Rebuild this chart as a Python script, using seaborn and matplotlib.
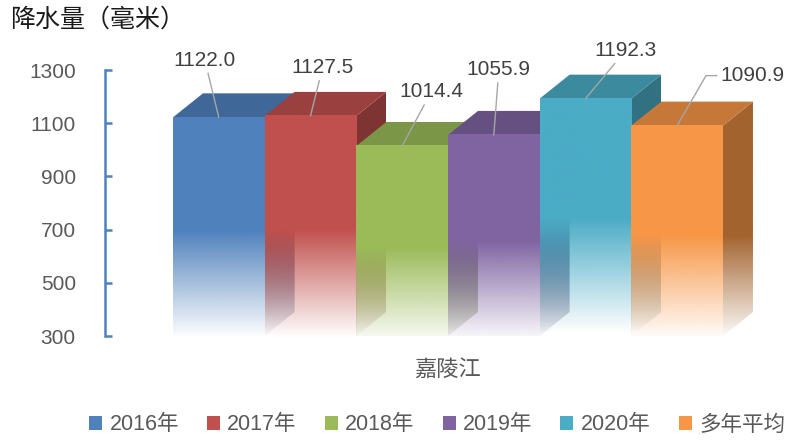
import numpy as np
import pandas as pd
import matplotlib
matplotlib.use("Agg")
import matplotlib.pyplot as plt
import seaborn as sns
from matplotlib.patches import Polygon, Patch
from matplotlib.colors import to_rgb

# =====================================
# DATA
# =====================================

river = "嘉陵江"
years = ["2016年", "2017年", "2018年", "2019年", "2020年", "多年平均"]
rainfall = [1122.0, 1127.5, 1014.4, 1055.9, 1192.3, 1090.9]
colors = ["#4F81BD", "#C0504D", "#9BBB59", "#8064A2", "#4BACC6", "#F79646"]
y_ticks = [300, 500, 700, 900, 1100, 1300]

df = pd.DataFrame({"river": river, "year": years, "rain": rainfall})

# =====================================
# STYLE
# =====================================

sns.set_style("white")
plt.rcParams["font.family"] = ["Liberation Sans", "Noto Sans CJK SC"]

axis_blue = "#4F81BD"
text_grey = "#595959"
y_min, y_max = 300, 1300

fig = plt.figure(figsize=(7.95, 4.41), dpi=100)
ax = fig.add_axes([105 / 795, 105 / 441, 685 / 795, 266 / 441])

sns.barplot(
    data=df,
    x="river",
    y="rain",
    hue="year",
    hue_order=years,
    palette=colors,
    saturation=1,
    legend=False,
    ax=ax
)

xlim = (-0.4989, 0.4975)
ax.set_xlim(*xlim)
ax.set_ylim(y_min, y_max)

# depth of the fake 3D faces (30 px right, 24 px up)
p0 = ax.transData.transform((0, y_min))
p1 = ax.transData.inverted().transform((p0[0] + 30, p0[1] + 24))
dx, dy = p1[0], p1[1] - y_min


def fade(rgb, v, top, n=256):
    ys = np.linspace(y_min, top, n)
    a = np.clip((ys - 0.26 * v) / (0.36 * v), 0, 1)
    img = np.zeros((n, 1, 4))
    img[..., :3] = np.clip(rgb, 0, 1)
    img[..., 3] = a[:, None]
    return img


bars = sorted(ax.patches, key=lambda p: p.get_x())

for i, (bar, v, c) in enumerate(zip(bars, rainfall, colors)):
    x0 = bar.get_x()
    x1 = x0 + bar.get_width()
    bar.set_visible(False)
    rgb = np.array(to_rgb(c))
    z = 2 + i * 3

    # side face
    side = Polygon(
        [(x1, y_min), (x1 + dx, y_min + dy), (x1 + dx, v + dy), (x1, v)],
        closed=True, fc="none", ec="none"
    )
    ax.add_patch(side)
    im = ax.imshow(
        fade(rgb * 0.66, v, v + dy),
        extent=[x1, x1 + dx, y_min, v + dy],
        origin="lower", aspect="auto", zorder=z, interpolation="bilinear"
    )
    im.set_clip_path(side)

    # top face
    ax.add_patch(Polygon(
        [(x0, v), (x0 + dx, v + dy), (x1 + dx, v + dy), (x1, v)],
        closed=True, fc=np.clip(rgb * 0.8, 0, 1), ec="none", zorder=z + 1,
        clip_on=False
    ))

    # front face
    ax.imshow(
        fade(rgb, v, v),
        extent=[x0, x1, y_min, v],
        origin="lower", aspect="auto", zorder=z + 2, interpolation="bilinear"
    )

ax.set_xlim(*xlim)
ax.set_ylim(y_min, y_max)

# =====================================
# DATA LABELS
# =====================================

label_offsets = [(-14, 57), (12, 48), (29, 54), (5, 65), (40, 48), (43, 50)]

for i, (bar, v) in enumerate(zip(bars, rainfall)):
    xc = bar.get_x() + bar.get_width() / 2
    last = i == len(bars) - 1
    arrow = dict(arrowstyle="-", color="#A6A6A6", lw=1, shrinkA=0, shrinkB=0)
    if last:
        arrow["connectionstyle"] = "angle,angleA=0,angleB=60,rad=0"
        arrow["relpos"] = (0, 0.5)
    ax.annotate(
        f"{v:.1f}",
        xy=(xc, v),
        xytext=label_offsets[i],
        textcoords="offset pixels",
        ha="left" if last else "center",
        va="center",
        fontsize=15,
        color="#404040",
        arrowprops=arrow,
        annotation_clip=False,
        zorder=30
    )

# =====================================
# AXES
# =====================================

for s in ["top", "right", "bottom"]:
    ax.spines[s].set_visible(False)
ax.spines["left"].set_color(axis_blue)
ax.spines["left"].set_linewidth(1.8)

ax.set_yticks(y_ticks)
ax.tick_params(
    axis="y", left=True, direction="in", length=5, width=1.8,
    color=axis_blue, labelsize=15, labelcolor=text_grey, pad=21
)
ax.tick_params(axis="x", length=0, labelsize=16, labelcolor=text_grey, pad=17)
ax.set_xlabel("")
ax.set_ylabel("")

fig.text(
    10 / 795, 1 - 20 / 441, "降水量（毫米）",
    fontsize=18, color="#1A1A1A", va="center", ha="left",
    family=["Noto Sans CJK SC"]
)

# =====================================
# LEGEND
# =====================================

handles = [Patch(fc=c, ec="none") for c in colors]
fig.legend(
    handles, years,
    loc="center", bbox_to_anchor=(437 / 795, 16 / 441),
    ncol=6, frameon=False, fontsize=15.5,
    handlelength=0.6, handleheight=0.6, handletextpad=0.35,
    columnspacing=1.3, labelcolor=text_grey
)

fig.savefig("out.png", dpi=100)
